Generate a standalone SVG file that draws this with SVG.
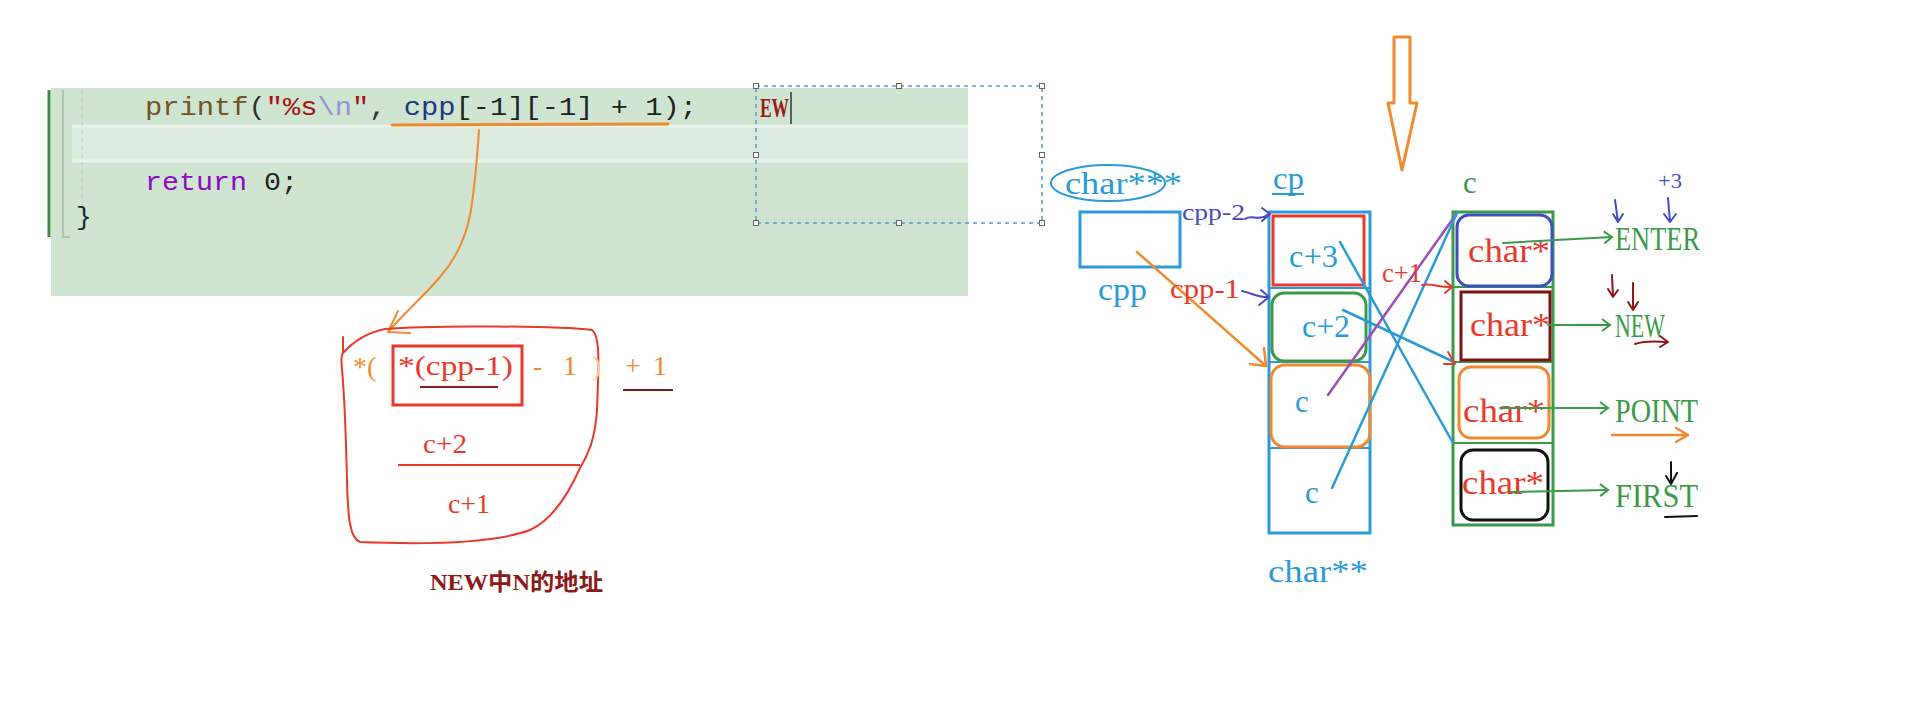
<svg xmlns="http://www.w3.org/2000/svg" width="1921" height="708" viewBox="0 0 1921 708">
<defs>
<style>
.mono{font-family:"Liberation Mono","DejaVu Sans Mono",monospace;font-size:26px}
.ser{font-family:"Liberation Serif","Noto Sans CJK SC",serif}
.hand{fill:none;stroke-linecap:round;stroke-linejoin:round}
.blue{stroke:#2b9bd8}
.red{stroke:#e8392b}
.grn{stroke:#3a9a4a}
.org{stroke:#f08a30}
</style>
<marker id="gArrow" markerUnits="userSpaceOnUse" markerWidth="14" markerHeight="14" refX="10" refY="7" orient="auto">
<path d="M2,1 L10,7 L2,13" fill="none" stroke="#3a9a4a" stroke-width="2"/>
</marker>
</defs>
<rect width="1921" height="708" fill="#ffffff"/>

<g id="code-panel">
<rect x="51" y="88" width="917" height="208" fill="#cfe5d2"/>
<rect x="72" y="125" width="896" height="37" fill="#dcebde"/>
<line x1="72" y1="126" x2="968" y2="126" stroke="#eaf3eb" stroke-width="3"/>
<line x1="72" y1="161" x2="968" y2="161" stroke="#eaf3eb" stroke-width="3"/>
<line x1="49" y1="90" x2="49" y2="237" stroke="#3a8a40" stroke-width="3"/>
<path d="M63,90 L63,237 L70,237" fill="none" stroke="#a8b8aa" stroke-width="1.5"/>
<line x1="82" y1="90" x2="82" y2="230" stroke="#c0ccc2" stroke-width="1" stroke-dasharray="4 4"/>
<text class="mono" x="145" y="115" textLength="552" lengthAdjust="spacingAndGlyphs"><tspan fill="#74531f">printf</tspan><tspan fill="#333">(</tspan><tspan fill="#a31515">"%s</tspan><tspan fill="#9b8fd8">\n</tspan><tspan fill="#a31515">"</tspan><tspan fill="#333">, </tspan><tspan fill="#1f377f">cpp</tspan><tspan fill="#222">[-1][-1] + 1);</tspan></text>
<text class="mono" x="145" y="190" textLength="153" lengthAdjust="spacingAndGlyphs"><tspan fill="#8f08c4">return</tspan><tspan fill="#222"> 0;</tspan></text>
<text class="mono" x="76" y="225" fill="#222">}</text>
</g>

<g id="selection-box">
<rect x="756" y="86" width="286" height="137" fill="none" stroke="#5a9ad0" stroke-width="1.5" stroke-dasharray="4 4"/>
<g fill="#fff" stroke="#666" stroke-width="1">
<rect x="753.5" y="83.5" width="5" height="5"/><rect x="896.5" y="83.5" width="5" height="5"/><rect x="1039.5" y="83.5" width="5" height="5"/>
<rect x="753.5" y="152.5" width="5" height="5"/><rect x="1039.5" y="152.5" width="5" height="5"/>
<rect x="753.5" y="220.5" width="5" height="5"/><rect x="896.5" y="220.5" width="5" height="5"/><rect x="1039.5" y="220.5" width="5" height="5"/>
</g>
<text class="ser" x="760" y="117" font-size="27" font-weight="bold" fill="#9a1a1a" textLength="29" lengthAdjust="spacingAndGlyphs">EW</text>
<line x1="791" y1="92" x2="791" y2="124" stroke="#333" stroke-width="1.5"/>
</g>

<g id="expression">
<path class="hand org" stroke-width="3" d="M392,125 L668,124"/>
<path class="hand org" stroke-width="2" d="M479,130 C477,160 474,190 471,210 C466,240 455,260 440,277 C425,295 405,312 388,332 M388,332 L398,311 M388,332 L410,333"/>
<path class="hand red" stroke-width="2" d="M343,337 L343,353 C352,343 365,333 385,329 C430,325 560,326 592,330 C600,336 599,360 597,410 C595,440 588,455 580,468 C568,495 552,520 530,530 C490,545 410,544 360,542 C350,538 348,520 347,480 C346,440 345,400 342,370 C341,360 341,355 343,353"/>
<rect x="393" y="346" width="129" height="59" fill="none" stroke="#e8392b" stroke-width="3"/>
<text class="ser" x="353" y="376" font-size="28" fill="#f08a30">*(</text>
<text class="ser" x="398" y="375" font-size="28" fill="#e8392b" textLength="115" lengthAdjust="spacingAndGlyphs">*(cpp-1)</text>
<text class="ser" x="533" y="375" font-size="28" fill="#f08a30" textLength="44" lengthAdjust="spacing">- 1</text>
<text class="ser" x="592" y="375" font-size="28" fill="#f8c8a0">)</text>
<text class="ser" x="625" y="375" font-size="28" fill="#f08a30" textLength="42" lengthAdjust="spacing">+ 1</text>
<line x1="420" y1="387" x2="498" y2="387" stroke="#8b2020" stroke-width="2"/>
<line x1="623" y1="390" x2="673" y2="390" stroke="#6a2020" stroke-width="2"/>
<text class="ser" x="423" y="453" font-size="27" fill="#e8392b" textLength="44" lengthAdjust="spacingAndGlyphs">c+2</text>
<line x1="398" y1="465" x2="580" y2="465" stroke="#e8392b" stroke-width="2"/>
<text class="ser" x="448" y="513" font-size="27" fill="#e8392b" textLength="42" lengthAdjust="spacingAndGlyphs">c+1</text>
<text class="ser" x="430" y="590" font-size="23" font-weight="600" fill="#8b1a1a" textLength="173" lengthAdjust="spacingAndGlyphs">NEW中N的地址</text>
</g>

<g id="down-arrow">
<polygon points="1394,37 1410,37 1410,103 1417,103 1402,170 1388,103 1394,103" fill="none" stroke="#f08a30" stroke-width="3" stroke-linejoin="round"/>
</g>

<g id="cpp">
<ellipse cx="1108" cy="183" rx="57" ry="18" fill="none" stroke="#2b9bd8" stroke-width="2"/>
<text class="ser" x="1065" y="194" font-size="32" fill="#2b9bd8" textLength="117" lengthAdjust="spacingAndGlyphs">char***</text>
<rect x="1080" y="212" width="100" height="55" fill="none" stroke="#2b9bd8" stroke-width="3"/>
<text class="ser" x="1098" y="300" font-size="32" fill="#2b9bd8" textLength="49" lengthAdjust="spacingAndGlyphs">cpp</text>
</g>

<g id="cp">
<text class="ser" x="1273" y="189" font-size="32" fill="#2b9bd8" textLength="31" lengthAdjust="spacingAndGlyphs">cp</text>
<line x1="1272" y1="194" x2="1304" y2="194" stroke="#2b9bd8" stroke-width="2"/>
<rect x="1269" y="212" width="101" height="321" fill="none" stroke="#2b9bd8" stroke-width="3"/>
<g stroke="#2b9bd8" stroke-width="2"><line x1="1269" y1="288" x2="1370" y2="288"/><line x1="1269" y1="362" x2="1370" y2="362"/><line x1="1269" y1="448" x2="1370" y2="448"/></g>
<rect x="1273" y="216" width="91" height="69" fill="none" stroke="#e8392b" stroke-width="3"/>
<rect x="1272" y="293" width="94" height="68" rx="12" fill="none" stroke="#3a9a4a" stroke-width="3"/>
<rect x="1271" y="365" width="99" height="82" rx="14" fill="none" stroke="#f08a30" stroke-width="3"/>
<g class="ser" font-size="31" fill="#2b9bd8">
<text x="1289" y="267" textLength="49" lengthAdjust="spacingAndGlyphs">c+3</text>
<text x="1302" y="337" textLength="48" lengthAdjust="spacingAndGlyphs">c+2</text>
<text x="1295" y="412">c</text>
<text x="1305" y="503">c</text>
</g>
<text class="ser" x="1268" y="582" font-size="32" fill="#2b9bd8" textLength="100" lengthAdjust="spacingAndGlyphs">char**</text>
</g>

<g id="c">
<text class="ser" x="1463" y="193" font-size="31" fill="#3a9a4a">c</text>
<rect x="1453" y="212" width="100" height="313" fill="none" stroke="#3a9a4a" stroke-width="3"/>
<g stroke="#3a9a4a" stroke-width="2"><line x1="1453" y1="287" x2="1553" y2="287"/><line x1="1453" y1="362" x2="1553" y2="362"/><line x1="1453" y1="443" x2="1553" y2="443"/></g>
<rect x="1457" y="215" width="95" height="71" rx="12" fill="none" stroke="#3e4fc0" stroke-width="3"/>
<rect x="1461" y="292" width="89" height="68" fill="none" stroke="#7a1515" stroke-width="3"/>
<rect x="1459" y="367" width="90" height="71" rx="12" fill="none" stroke="#f08a30" stroke-width="3"/>
<rect x="1461" y="450" width="87" height="70" rx="12" fill="none" stroke="#111" stroke-width="3"/>
<g class="ser" font-size="33" fill="#e8392b">
<text x="1468" y="262" textLength="82" lengthAdjust="spacingAndGlyphs">char*</text>
<text x="1470" y="336" textLength="80" lengthAdjust="spacingAndGlyphs">char*</text>
<text x="1463" y="422" textLength="82" lengthAdjust="spacingAndGlyphs">char*</text>
<text x="1462" y="494" textLength="82" lengthAdjust="spacingAndGlyphs">char*</text>
</g>
</g>

<g id="strings" class="ser" font-size="34" fill="#3a9a4a">
<text x="1615" y="250" textLength="85" lengthAdjust="spacingAndGlyphs">ENTER</text>
<text x="1615" y="337" textLength="50" lengthAdjust="spacingAndGlyphs">NEW</text>
<text x="1615" y="422" textLength="83" lengthAdjust="spacingAndGlyphs">POINT</text>
<text x="1615" y="507" textLength="83" lengthAdjust="spacingAndGlyphs">FIRST</text>
</g>

<g id="connectors">
<path class="hand" stroke="#3a9a4a" stroke-width="2" d="M1503,243 L1612,237" marker-end="url(#gArrow)"/>
<path class="hand" stroke="#3a9a4a" stroke-width="2" d="M1548,325 L1610,325" marker-end="url(#gArrow)"/>
<path class="hand" stroke="#3a9a4a" stroke-width="2" d="M1500,408 L1608,408" marker-end="url(#gArrow)"/>
<path class="hand" stroke="#3a9a4a" stroke-width="2" d="M1510,492 L1608,490" marker-end="url(#gArrow)"/>

<path class="hand blue" stroke-width="2.5" d="M1340,242 L1453,443"/>
<path class="hand blue" stroke-width="2.5" d="M1343,310 L1452,361"/>
<path class="hand red" stroke-width="2" d="M1448,352 L1455,364 L1444,364"/>
<path class="hand" stroke="#9b4fb0" stroke-width="2.5" d="M1328,395 L1457,213"/>
<path class="hand blue" stroke-width="2.5" d="M1332,488 L1457,213"/>

<path class="hand org" stroke-width="2.5" d="M1137,252 L1266,366 M1266,366 L1264,348 M1266,366 L1250,364"/>

<path class="hand" stroke="#4a4ab8" stroke-width="2" d="M1245,219 C1252,214 1258,222 1269,214 M1262,208 L1270,214 L1262,221"/>
<path class="hand" stroke="#4a4ab8" stroke-width="2" d="M1242,291 C1252,293 1258,298 1268,297 M1261,290 L1269,297 L1259,305"/>
<path class="hand red" stroke-width="2" d="M1422,285 C1432,283 1440,288 1452,287 M1445,281 L1452,287 L1445,293"/>

<path class="hand org" stroke-width="2.5" d="M1612,435 L1688,435 M1676,428 L1688,435 L1676,442"/>
<path class="hand" stroke="#111" stroke-width="2" d="M1665,517 L1697,516"/>
<path class="hand" stroke="#111" stroke-width="2" d="M1671,462 L1671,484 M1666,476 L1671,484 L1677,473"/>
<path class="hand" stroke="#8b1a1a" stroke-width="2" d="M1612,275 L1613,297 M1608,289 L1613,297 L1618,290"/>
<path class="hand" stroke="#8b1a1a" stroke-width="2" d="M1633,283 L1633,310 M1628,302 L1633,310 L1638,302"/>
<path class="hand" stroke="#8b1a1a" stroke-width="2" d="M1635,344 C1648,340 1658,342 1668,342 M1660,336 L1668,342 L1660,347"/>
<path class="hand" stroke="#3e4fc0" stroke-width="2" d="M1615,200 L1618,222 M1613,214 L1618,222 L1623,214"/>
<path class="hand" stroke="#3e4fc0" stroke-width="2" d="M1668,198 L1670,222 M1664,214 L1670,222 L1676,214"/>
</g>

<g id="labels">
<text class="ser" x="1182" y="220" font-size="23" fill="#4a4ab8" textLength="63" lengthAdjust="spacingAndGlyphs">cpp-2</text>
<text class="ser" x="1170" y="298" font-size="28" fill="#e8392b" textLength="70" lengthAdjust="spacingAndGlyphs">cpp-1</text>
<text class="ser" x="1382" y="282" font-size="27" fill="#e8392b" textLength="40" lengthAdjust="spacingAndGlyphs">c+1</text>
<text class="ser" x="1658" y="188" font-size="20" fill="#3e4fc0" textLength="24" lengthAdjust="spacingAndGlyphs">+3</text>
</g>
</svg>
